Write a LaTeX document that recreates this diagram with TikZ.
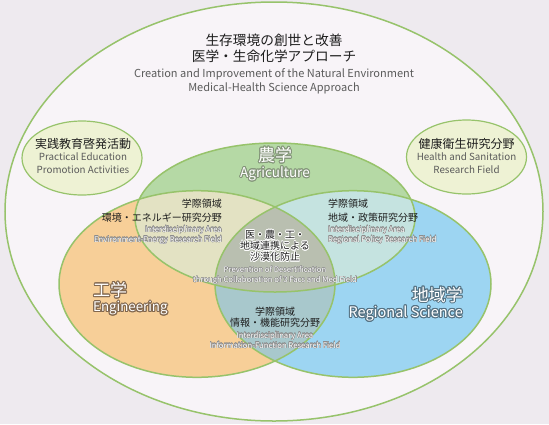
\documentclass[tikz,border=0pt]{standalone}
\usepackage{fontspec}
\setmainfont{Noto Sans CJK JP}
\usepackage{contour}
\definecolor{bgc}{HTML}{EEEAEF}
\definecolor{outerc}{HTML}{F8F4F8}
\definecolor{linec}{HTML}{97C36B}
\definecolor{smallc}{HTML}{EEF2D4}
\definecolor{agric}{HTML}{B5D9A5}
\definecolor{engc}{HTML}{F7CF98}
\definecolor{regc}{HTML}{9DD5F2}
\definecolor{goc}{HTML}{E3E2C3}
\definecolor{gbc}{HTML}{C5E3E0}
\definecolor{obc}{HTML}{A8C8CC}
\definecolor{triplec}{HTML}{B9BFB0}
\definecolor{txtc}{HTML}{1E1E1E}
\definecolor{engray}{HTML}{5B5B5B}
\definecolor{outg}{HTML}{8C8C8C}
\definecolor{glowa}{HTML}{84957A}
\definecolor{glowe}{HTML}{82684F}
\definecolor{glowr}{HTML}{557283}
\newcommand\glowtxt[2]{\contourlength{1pt}\contour{#1}{#2}}
\newcommand\halotxt[2]{\contourlength{0.7pt}\contour{#1}{#2}}
\newcommand\outtxt[1]{\contourlength{0.28pt}\contour{outg}{#1}}
\begin{document}
\begin{tikzpicture}[x=1pt,y=-1pt,
  lbl/.style={anchor=base,inner sep=0pt},
  tjp/.style={lbl,font=\fontsize{13.7}{16}\selectfont,text=txtc},
  ten/.style={lbl,font=\fontsize{11}{14}\selectfont,text=engray},
  sjp/.style={lbl,font=\fontsize{12}{14}\selectfont,text=txtc},
  sen/.style={lbl,font=\fontsize{9.8}{12}\selectfont,text=engray},
  bigjp/.style={lbl,font=\fontsize{17}{20}\selectfont,text=white},
  bigen/.style={lbl,text=white},
  ijp/.style={lbl,font=\fontsize{10}{12}\selectfont,text=txtc},
  ien/.style={lbl,font=\fontsize{7.7}{10}\selectfont,text=white},
  ring/.style={draw=linec,line width=1.5pt}]
\useasboundingbox (0,0) rectangle (549,424);
\fill[bgc] (0,0) rectangle (549,424);
% outer ellipse
\filldraw[fill=outerc,ring] (274,211.5) ellipse [x radius=269pt,y radius=209.5pt];
% small ellipses
\filldraw[fill=smallc,draw=linec,line width=1.2pt] (82,158) ellipse [x radius=60pt,y radius=37pt];
\filldraw[fill=smallc,draw=linec,line width=1.2pt] (466.5,157) ellipse [x radius=60pt,y radius=37pt];
% venn fills
\fill[agric] (275,217.5) ellipse [x radius=140pt,y radius=74.5pt];
\fill[engc] (197,284) ellipse [x radius=138pt,y radius=93.3pt];
\fill[regc] (353,284) ellipse [x radius=138pt,y radius=93.3pt];
\begin{scope}
  \clip (275,217.5) ellipse [x radius=140pt,y radius=74.5pt];
  \fill[goc] (197,284) ellipse [x radius=138pt,y radius=93.3pt];
  \fill[gbc] (353,284) ellipse [x radius=138pt,y radius=93.3pt];
\end{scope}
\begin{scope}
  \clip (197,284) ellipse [x radius=138pt,y radius=93.3pt];
  \fill[obc] (353,284) ellipse [x radius=138pt,y radius=93.3pt];
  \clip (275,217.5) ellipse [x radius=140pt,y radius=74.5pt];
  \fill[triplec] (353,284) ellipse [x radius=138pt,y radius=93.3pt];
\end{scope}
\draw[ring] (275,217.5) ellipse [x radius=140pt,y radius=74.5pt];
\draw[ring] (197,284) ellipse [x radius=138pt,y radius=93.3pt];
\draw[ring] (353,284) ellipse [x radius=138pt,y radius=93.3pt];
% title
\node[tjp] (t1) at (274,45) {生存環境の創世と改善};
\node[tjp] (t2) at (274,61.5) {医学・生命化学アプローチ};
\node[ten] (t3) at (274,77) {Creation and Improvement of the Natural Environment};
\node[ten] (t4) at (274,91.5) {Medical-Health Science Approach};
% small ellipse texts
\node[sjp] (p1) at (83,148) {実践教育啓発活動};
\node[sen] (p2) at (83,160.5) {Practical Education};
\node[sen] (p3) at (83,173.5) {Promotion Activities};
\node[sjp] (h1) at (466.5,148) {健康衛生研究分野};
\node[sen] (h2) at (466.5,160.5) {Health and Sanitation};
\node[sen] (h3) at (466.5,173.5) {Research Field};
% big labels
\node[bigjp] (a1) at (275,161.5) {\glowtxt{glowa}{農学}};
\node[bigen,font=\fontsize{13.5}{16}\selectfont] (a2) at (275,177.5) {\glowtxt{glowa}{Agriculture}};
\node[bigjp,anchor=base west] (e1) at (93,296.5) {\glowtxt{glowe}{工学}};
\node[bigen,font=\fontsize{13.3}{16}\selectfont,anchor=base west] (e2) at (93,311.7) {\glowtxt{glowe}{Engineering}};
\node[bigjp,anchor=base east] (r1) at (463,301) {\glowtxt{glowr}{地域学}};
\node[bigen,font=\fontsize{14.5}{16}\selectfont,anchor=base east] (r2) at (463,317.5) {\glowtxt{glowr}{Regional Science}};
% agri-eng intersection
\node[ijp,anchor=base east] (ge1) at (222,207.5) {学際領域};
\node[ijp,anchor=base east] (ge2) at (222,221.5) {環境・エネルギー研究分野};
\node[ien,anchor=base east] (ge3) at (222,232) {\outtxt{Interdisciplinary Area}};
\node[ien,anchor=base east] (ge4) at (222,242) {\outtxt{Environment-Energy Research Field}};
% agri-reg intersection
\node[ijp,anchor=base west] (gr1) at (328,207.5) {学際領域};
\node[ijp,anchor=base west] (gr2) at (328,221.5) {地域・政策研究分野};
\node[ien,anchor=base west] (gr3) at (328,232) {\outtxt{Interdisciplinary Area}};
\node[ien,anchor=base west] (gr4) at (328,242) {\outtxt{Regional Policy Research Field}};
% centre
\node[ijp] (c1) at (275,238.5) {\halotxt{white}{医・農・工・}};
\node[ijp] (c2) at (275,249.5) {\halotxt{white}{地域連携による}};
\node[ijp] (c3) at (275,260.5) {\halotxt{white}{沙漠化防止}};
\node[ien] (c4) at (275,272.5) {\outtxt{Prevention of Desertification}};
\node[ien] (c5) at (275,282.5) {\outtxt{through Collaboration of 3 Facs and Med Field}};
% eng-reg intersection
\node[ijp] (er1) at (275,315.5) {学際領域};
\node[ijp] (er2) at (275,326.5) {情報・機能研究分野};
\node[ien] (er3) at (275,338) {\outtxt{Interdisciplinary Area}};
\node[ien] (er4) at (275,348) {\outtxt{Information-Function Research Field}};
\end{tikzpicture}
\end{document}
